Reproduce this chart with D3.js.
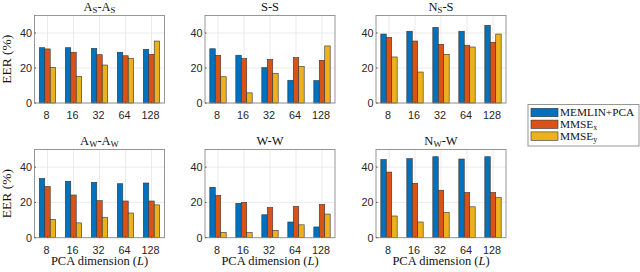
<!DOCTYPE html>
<html>
<head>
<script src="https://d3js.org/d3.v7.min.js"></script>
<style>
body{margin:0;background:#fff;}
.sf{font-family:"Liberation Serif","DejaVu Serif","Times New Roman",serif;}
.ss{font-family:"Liberation Sans",Arial,Helvetica,sans-serif;}
</style>
</head>
<body>
<svg width="640" height="272"></svg>
<script>
const dims=["8","16","32","64","128"];
const seriesNames=["MEMLIN+PCA","MMSEx","MMSEy"];
const colors=["#0072BD","#D95319","#EDB120"];
const yTicks=[0,20,40];

// one list per panel, series order: MEMLIN+PCA, MMSEx, MMSEy
const asAs=[[31.6,31.6,31.2,29.0,30.7],[30.9,29.0,27.6,27.0,27.8],[20.4,15.2,21.7,25.5,35.4]];
const ssS=[[31.0,27.3,20.2,13.0,12.8],[27.2,25.4,24.9,25.9,24.4],[15.0,5.8,17.0,20.9,32.6]];
const nsS=[[39.4,41.0,43.2,41.0,44.4],[37.5,35.4,33.5,33.0,34.7],[26.3,17.7,27.8,32.0,39.4]];
const awAw=[[33.6,32.0,31.4,30.6,31.0],[29.0,24.2,21.0,20.8,20.8],[10.4,8.4,11.6,14.0,18.6]];
const wW=[[28.6,19.5,13.0,8.9,6.1],[24.0,20.0,17.1,17.7,18.8],[3.0,3.0,4.2,7.3,13.4]];
const nwW=[[44.3,44.8,45.9,44.6,45.9],[37.2,30.8,26.9,25.6,25.6],[12.3,8.9,14.3,17.5,22.7]];

const panels=[
  {data:asAs,title:[["A",""],["S","sub"],["-",""],["A",""],["S","sub"]],row:0,col:0},
  {data:ssS,title:[["S-S",""]],row:0,col:1},
  {data:nsS,title:[["N",""],["S","sub"],["-S",""]],row:0,col:2},
  {data:awAw,title:[["A",""],["W","sub"],["-",""],["A",""],["W","sub"]],row:1,col:0},
  {data:wW,title:[["W-W",""]],row:1,col:1},
  {data:nwW,title:[["N",""],["W","sub"],["-W",""]],row:1,col:2}
];

const svg=d3.select("svg");
const colX=[34.5,205,376];
const pw=130;
const rowY=[[15.5,103],[149.5,237.7]];

function richTitle(sel,parts,size){
  let shifted=false;
  parts.forEach(p=>{
    const t=sel.append("tspan").text(p[0]);
    if(p[1]==="sub"){
      t.style("font-size",(size*0.7)+"px");
      if(!shifted){t.attr("dy",2);shifted=true;}
    } else if(shifted){
      t.attr("dy",-2);shifted=false;
    }
  });
}

panels.forEach(p=>{
  const x0=colX[p.col], y0=rowY[p.row][0], y1=rowY[p.row][1];
  const x=d3.scaleLinear().domain([0.5,5.5]).range([x0,x0+pw]);
  const y=d3.scaleLinear().domain([0,50]).range([y1,y0]);
  const g=svg.append("g");

  // grid
  g.selectAll(".vg").data(dims).enter().append("line")
    .attr("x1",(d,i)=>x(i+1)).attr("x2",(d,i)=>x(i+1))
    .attr("y1",y0).attr("y2",y1)
    .attr("stroke","#e6e6e6").attr("stroke-width",0.8);
  g.selectAll(".hg").data(yTicks).enter().append("line")
    .attr("x1",x0).attr("x2",x0+pw)
    .attr("y1",d=>y(d)).attr("y2",d=>y(d))
    .attr("stroke","#e6e6e6").attr("stroke-width",0.8);

  // bars
  const bw=0.21;
  p.data.forEach((vals,s)=>{
    g.selectAll(".b"+s).data(vals).enter().append("rect")
      .attr("x",(d,i)=>x(i+1+(s-1)*bw-bw/2))
      .attr("width",x(bw)-x(0))
      .attr("y",d=>y(d))
      .attr("height",d=>y(0)-y(d))
      .attr("fill",colors[s])
      .attr("stroke","#333")
      .attr("stroke-width",0.6);
  });

  // box
  g.append("rect").attr("x",x0).attr("y",y0).attr("width",pw).attr("height",y1-y0)
    .attr("fill","none").attr("stroke","#8c8c8c").attr("stroke-width",0.9);

  // ticks (inside)
  g.selectAll(".xt").data(dims).enter().append("line")
    .attr("x1",(d,i)=>x(i+1)).attr("x2",(d,i)=>x(i+1))
    .attr("y1",y1).attr("y2",y1-1.5).attr("stroke","#555");
  g.selectAll(".yt").data(yTicks).enter().append("line")
    .attr("x1",x0).attr("x2",x0+1.5)
    .attr("y1",d=>y(d)).attr("y2",d=>y(d)).attr("stroke","#555");

  // tick labels
  g.selectAll(".xl").data(dims).enter().append("text")
    .attr("class","ss")
    .attr("x",(d,i)=>x(i+1)-1).attr("y",y1+16)
    .attr("text-anchor","middle")
    .style("font-size","10.8px").attr("fill","#262626")
    .text(d=>d);
  g.selectAll(".yl").data(yTicks).enter().append("text")
    .attr("class","ss")
    .attr("x",x0-2.5).attr("y",d=>y(d)+4)
    .attr("text-anchor","end")
    .style("font-size","10.8px").attr("fill","#262626")
    .text(d=>d);

  // title
  const t=g.append("text").attr("class","sf").attr("x",x0+pw/2).attr("y",y0-5)
    .attr("text-anchor","middle")
    .style("font-size","12.5px").attr("fill","#111");
  richTitle(t,p.title,12.5);

  // x label only under the bottom row
  if(p.row===1){
    const xl=g.append("text").attr("class","sf").attr("x",x0+pw/2).attr("y",y1+27.5)
      .attr("text-anchor","middle")
      .style("font-size","12.5px").attr("fill","#111");
    xl.append("tspan").text("PCA dimension (");
    xl.append("tspan").text("L").style("font-style","italic");
    xl.append("tspan").text(")");
  }

  if(p.col===0){
    svg.append("text").attr("class","sf")
      .attr("transform",`translate(${x0-24},${(y0+y1)/2}) rotate(-90)`)
      .attr("text-anchor","middle")
      .style("font-size","13.5px").attr("fill","#111")
      .text("EER (%)");
  }
});

// legend
const lg=svg.append("g");
lg.append("rect").attr("x",528).attr("y",104.5).attr("width",111).attr("height",41.5)
  .attr("fill","#fff").attr("stroke","#8c8c8c").attr("stroke-width",0.9);
const legParts=[[["MEMLIN+PCA",""]],[["MMSE",""],["x","sub"]],[["MMSE",""],["y","sub"]]];
seriesNames.forEach((n,i)=>{
  const cy=112.5+i*11.8;
  lg.append("rect").attr("x",531).attr("y",cy-4.2).attr("width",27).attr("height",8.4)
    .attr("fill",colors[i]).attr("stroke","#333").attr("stroke-width",0.6);
  const t=lg.append("text").attr("class","sf").attr("x",560).attr("y",cy+3.8)
    .style("font-size","11.3px").attr("fill","#111");
  richTitle(t,legParts[i],11.3);
});
</script>
</body>
</html>
